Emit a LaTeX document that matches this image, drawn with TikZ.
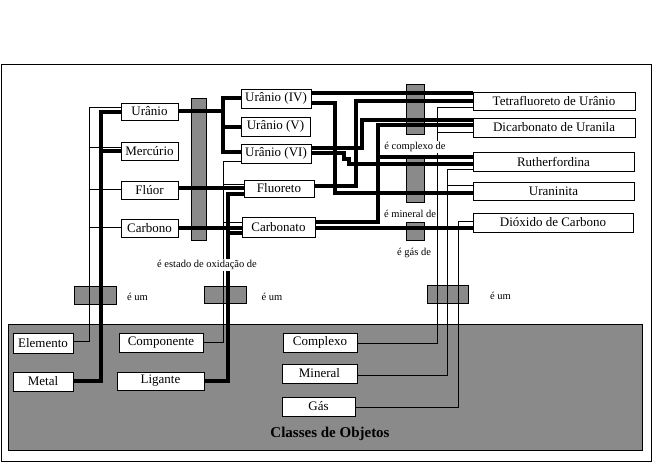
\documentclass[tikz,border=0pt]{standalone}
\usepackage{fontspec}
\setmainfont{Liberation Serif}
\pgfdeclarelayer{back}
\pgfdeclarelayer{lines}
\pgfsetlayers{back,lines,main}
\definecolor{gbar}{RGB}{138,138,138}
\begin{document}
\begin{tikzpicture}[x=1pt,y=-1pt,
 box/.style={draw, fill=white, inner sep=0pt, line width=0.8pt, font=\fontsize{13}{15}\selectfont},
 relbar/.style={draw, fill=gbar, line width=0.8pt},
 rellabel/.style={fill=white, inner sep=1pt, font=\fontsize{10.5}{12}\selectfont},
 thinln/.style={line width=0.9pt},
 thickln/.style={line width=4pt},
]
\useasboundingbox (0,0) rectangle (653,463);
\draw[line width=0.9pt] (1,64) rectangle (651,461);

% left column
\node[box, minimum width=57pt, minimum height=17pt] (uranio) at (149.5,111.5) {Urânio};
\node[box, minimum width=57pt, minimum height=18pt] (mercurio) at (149.5,151) {Mercúrio};
\node[box, minimum width=57pt, minimum height=18pt] (fluor) at (149.5,190) {Flúor};
\node[box, minimum width=57pt, minimum height=18pt] (carbono) at (149.5,228) {Carbono};
% middle column
\node[box, minimum width=70pt, minimum height=19pt] (urIV) at (276,98.5) {Urânio (IV)};
\node[box, minimum width=69pt, minimum height=19pt] (urV) at (275.5,126.5) {Urânio (V)};
\node[box, minimum width=70pt, minimum height=19pt] (urVI) at (276,153.5) {Urânio (VI)};
\node[box, minimum width=70pt, minimum height=17pt] (fluoreto) at (279,188.5) {Fluoreto};
\node[box, minimum width=73pt, minimum height=20pt] (carbonato) at (278.5,227) {Carbonato};
% right column
\node[box, minimum width=162pt, minimum height=18pt] (tetra) at (554,101) {Tetrafluoreto de Urânio};
\node[box, minimum width=162pt, minimum height=19pt] (dicarb) at (554,127.5) {Dicarbonato de Uranila};
\node[box, minimum width=161pt, minimum height=19pt] (ruther) at (553.5,161.5) {Rutherfordina};
\node[box, minimum width=161pt, minimum height=18pt] (uraninita) at (553.5,191) {Uraninita};
\node[box, minimum width=160pt, minimum height=19pt] (dioxido) at (553,222.5) {Dióxido de Carbono};
% classes
\node[box, minimum width=60pt, minimum height=20pt] (elemento) at (43,343) {Elemento};
\node[box, minimum width=60pt, minimum height=19pt] (metal) at (43,381.5) {Metal};
\node[box, minimum width=84pt, minimum height=19pt] (componente) at (161,342.5) {Componente};
\node[box, minimum width=87pt, minimum height=18pt] (ligante) at (160.5,381) {Ligante};
\node[box, minimum width=74pt, minimum height=19pt] (complexo) at (320,342.5) {Complexo};
\node[box, minimum width=75pt, minimum height=19pt] (mineral) at (319.5,373.5) {Mineral};
\node[box, minimum width=73pt, minimum height=19pt] (gas) at (318.5,406.5) {Gás};

% relation labels
\node[rellabel] (lox) at (207,265) {é estado de oxidação de};
\node[rellabel] (lum1) at (137.5,297) {é um};
\node[rellabel] (lum2) at (272,297) {é um};
\node[rellabel] (lum3) at (500.5,296) {é um};
\node[rellabel] (lcx) at (415,147) {é complexo de};
\node[rellabel] (lmn) at (410,214) {é mineral de};
\node[rellabel] (lgs) at (414,253) {é gás de};
\node[font=\fontsize{15}{17}\selectfont\bfseries] (classes) at (330,434) {Classes de Objetos};

\begin{pgfonlayer}{back}
\draw[relbar] (8,324) rectangle (642,450);
\draw[relbar] (191,98) rectangle (206,240);
\draw[relbar] (406,84) rectangle (424,134);
\draw[relbar] (406,155) rectangle (424,202);
\draw[relbar] (406,222) rectangle (424,240);
\draw[relbar] (74,286) rectangle (116,304);
\draw[relbar] (204,286) rectangle (246,303);
\draw[relbar] (427,285) rectangle (468,303);
\end{pgfonlayer}

\begin{pgfonlayer}{lines}
% thin "e um" lines
\draw[thinln] (elemento.east |- 0,341) -| (89,107) -- (uranio.west |- 0,107);
\draw[thinln] (89,147) -- (mercurio.west |- 0,147);
\draw[thinln] (89,189) -- (fluor.west |- 0,189);
\draw[thinln] (89,227) -- (carbono.west |- 0,227);
\draw[thinln] (componente.east |- 0,342) -| (223,161) -- (urVI.west |- 0,161);
\draw[thinln] (223,184) -- (fluoreto.west |- 0,184);
\draw[thinln] (223,222) -- (carbonato.west |- 0,222);
\draw[thinln] (complexo.east |- 0,343) -| (437,107) -- (tetra.west |- 0,107);
\draw[thinln] (437,132) -- (dicarb.west |- 0,132);
\draw[thinln] (mineral.east |- 0,375) -| (447,169) -- (ruther.west |- 0,169);
\draw[thinln] (447,185) -- (uraninita.west |- 0,185);
\draw[thinln] (gas.east |- 0,407) -| (458,221) -- (dioxido.west |- 0,221);
% thick lines
\draw[thickln] (metal.east |- 0,381) -| (101,112) -- (uranio.west |- 0,112);
\draw[thickln] (101,151) -- (mercurio.west |- 0,151);
\draw[thickln] (ligante.east |- 0,381) -| (228,194) -- (fluoreto.west |- 0,194);
\draw[thickln] (228,233) -- (carbonato.west |- 0,233);
\draw[thickln] (uranio.east |- 0,111) -- (223,111);
\draw[thickln] (urIV.west |- 0,98) -| (223,152) -- (urVI.west |- 0,152);
\draw[thickln] (223,127) -- (urV.west |- 0,127);
\draw[thickln] (fluor.east |- 0,188) -- (fluoreto.west |- 0,188);
\draw[thickln] (carbono.east |- 0,228) -- (dioxido.west |- 0,228);
\draw[thickln] (urIV.east |- 0,93) -- (tetra.west |- 0,93);
\draw[thickln] (urIV.east |- 0,103) -| (335,193) -- (uraninita.west |- 0,193);
\draw[thickln] (fluoreto.east |- 0,186) -| (356,101) -- (tetra.west |- 0,101);
\draw[thickln] (urVI.east |- 0,148) -| (362,120) -- (dicarb.west |- 0,120);
\draw[thickln] (urVI.east |- 0,153) -- (344,153) -- (344,159) -- (349,159) -- (349,164) -- (ruther.west |- 0,164);
\draw[thickln] (carbonato.east |- 0,222) -| (378,125) -- (dicarb.west |- 0,125);
\draw[thickln] (378,157) -- (ruther.west |- 0,157);
\end{pgfonlayer}
\end{tikzpicture}
\end{document}
